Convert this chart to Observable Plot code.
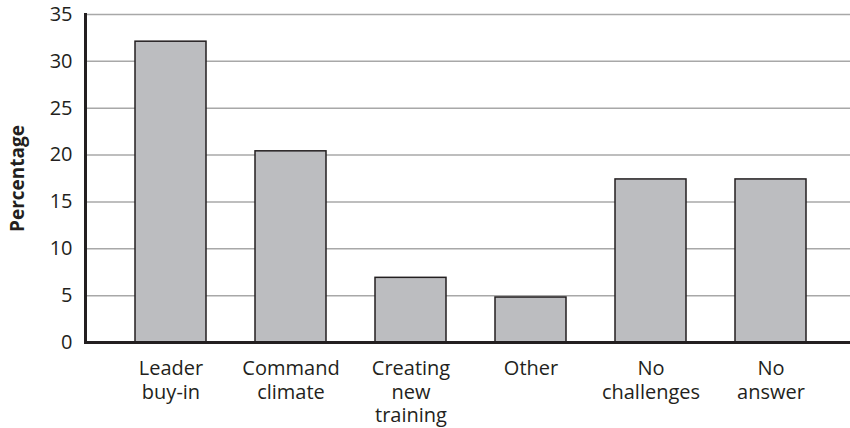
<!DOCTYPE html>
<html><head><meta charset="utf-8">
<script src="https://cdn.jsdelivr.net/npm/d3@7"></script>
<script src="https://cdn.jsdelivr.net/npm/@observablehq/plot@0.6"></script>
<style>body{margin:0;background:#fff}</style>
</head><body><div id="chart"></div>
<script>
const categories = ["Leader\nbuy-in", "Command\nclimate", "Creating\nnew\ntraining", "Other", "No\nchallenges", "No\nanswer"];
const values = [32.1, 20.4, 6.9, 4.8, 17.4, 17.4];
const yTicks = [0, 5, 10, 15, 20, 25, 30, 35];
const yTitle = "Percentage";

const data = categories.map((c, i) => ({category: c, value: values[i]}));

const chart = Plot.plot({
  width: 850, height: 428,
  marginTop: 14, marginBottom: 86, marginLeft: 85, marginRight: 0,
  style: {fontFamily: "'Open Sans', sans-serif", fontSize: "20px", color: "#231f20", background: "#fff"},
  x: {domain: categories, paddingInner: 0.41, paddingOuter: 0.384, align: 0.53, label: null},
  y: {domain: [0, 35], label: null},
  marks: [
    Plot.gridY(yTicks.filter(d => d > 0), {stroke: "#a8a8a8", strokeOpacity: 1, strokeWidth: 1.5}),
    Plot.barY(data, {x: "category", y: "value", fill: "#bcbdc0", stroke: "#231f20", strokeWidth: 1.5}),
    Plot.axisX({tickSize: 0, tickPadding: 16, lineHeight: 1.175, fontSize: 20, label: null}),
    Plot.axisY({ticks: yTicks, tickSize: 0, tickPadding: 13, fontSize: 20, label: null}),
    Plot.frame({anchor: "left", stroke: "#231f20", strokeWidth: 3}),
    Plot.ruleY([0], {stroke: "#231f20", strokeWidth: 3}),
    Plot.text([yTitle], {frameAnchor: "left", textAnchor: "middle", dx: -68, rotate: -90, fontWeight: "bold", fontSize: 19, fill: "#231f20", letterSpacing: "0.5px"})
  ]
});
document.getElementById("chart").appendChild(chart);
</script>
</body></html>
